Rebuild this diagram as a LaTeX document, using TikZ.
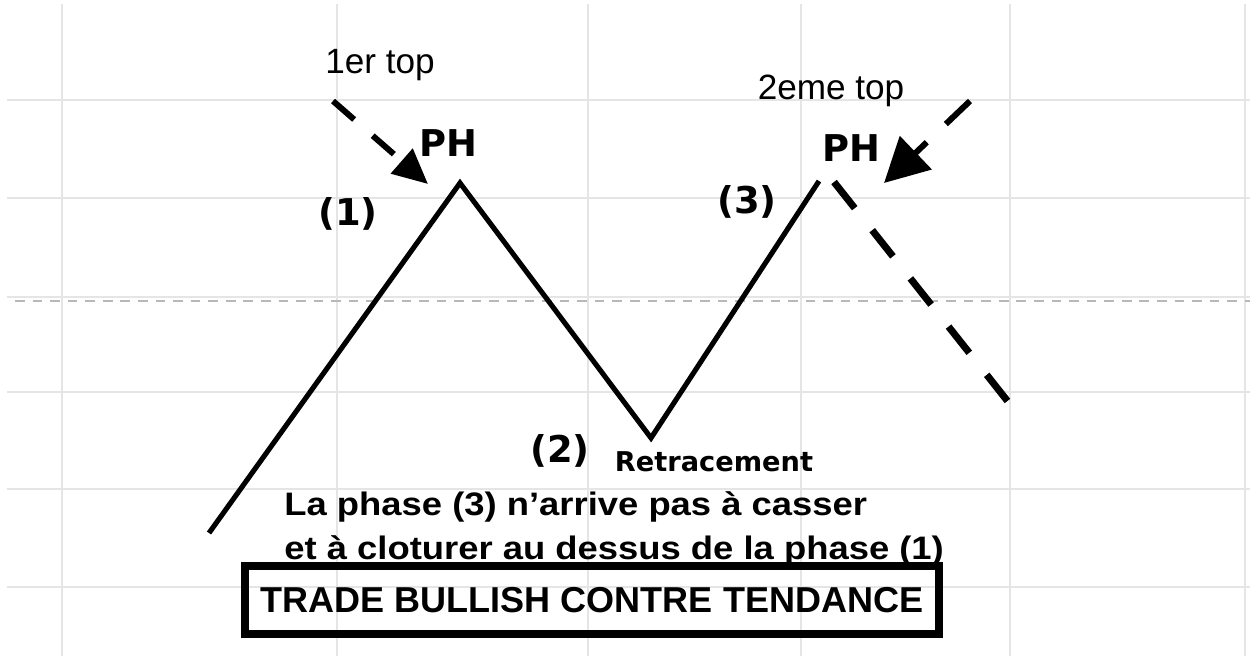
\documentclass[tikz,border=0pt]{standalone}
\usepackage{fontspec}
\setmainfont{Liberation Sans}
\newfontfamily\wideface{DejaVu Sans}
\newfontfamily\noteface[FakeStretch=1.12]{Liberation Sans}
\usetikzlibrary{positioning,arrows.meta}
\definecolor{gridgray}{gray}{0.9}
\definecolor{midgray}{gray}{0.72}

\begin{document}
\begin{tikzpicture}[x=0.02cm, y=-0.02cm,
    phase/.style={font=\wideface\bfseries\fontsize{21}{24}\selectfont, inner sep=0pt},
    top label/.style={font=\fontsize{20}{24}\selectfont, inner sep=0pt},
    note/.style={font=\noteface\bfseries\fontsize{18.5}{22}\selectfont, inner sep=0pt},
    toparrow/.style={line width=3.4pt, dash pattern=on 16pt off 14pt}]
  \def\trendw{2.9pt}
  \def\gridw{0.9pt}
  \useasboundingbox (0,0) rectangle (1250,656);
  % Grid
  \foreach \gx in {62,337,588,801,1010,1245}
    \draw[gridgray, line width=\gridw] (\gx,4) -- (\gx,656);
  \foreach \gy in {100,198,297,392,489,587}
    \draw[gridgray, line width=\gridw] (7,\gy) -- (1250,\gy);
  \draw[midgray, line width=0.6pt, dash pattern=on 5.5pt off 4.5pt] (15,301) -- (1250,301);

  % Swing points
  \coordinate (start) at (209,533);
  \coordinate (first top) at (460,183);
  \coordinate (retrace low) at (651,438);
  \coordinate (second top) at (819,181);
  \coordinate (fall start) at (834,182);
  \coordinate (fall end) at (1013,408);
  \draw[line width=\trendw] (start) -- (first top) -- (retrace low) -- (second top);
  \draw[line width=4pt, dash pattern=on 19pt off 16pt] (fall start) -- (fall end);

  % Top arrows
  \coordinate (arrow one) at (333,101);
  \coordinate (tip one) at (428,184);
  \coordinate (arrow two) at (970,101);
  \coordinate (tip two) at (884,183);
  \draw[toparrow, -{Triangle[length=0.7cm, width=0.64cm]}] (arrow one) -- (tip one);
  \draw[toparrow, dash pattern=on 19pt off 15pt, -{Triangle[length=0.88cm, width=0.9cm]}] (arrow two) -- (tip two);

  % Labels
  \node[top label, anchor=base] (first top label) at (380,73) {1er top};
  \node[top label, anchor=base] (second top label) at (831,99) {2eme top};
  \node[phase] (ph one) at (448,143) {PH};
  \node[phase] (ph two) at (851,148) {PH};
  \node[phase] (phase one) at (348,214) {(1)};
  \node[phase] (phase three) at (747,202) {(3)};
  \node[phase] (phase two) at (560,451) {(2)};
  \node[phase, font=\wideface\bfseries\fontsize{15.5}{18}\selectfont] (retracement) at (714,462) {Retracement};

  % Notes
  \coordinate (note corner) at (284,515);
  \node[note, anchor=base west] (note one) at (note corner) {La phase (3) n’arrive pas à casser};
  \node[note, below = 0.88cm of note corner, anchor=base west] (note two) {et à cloturer au dessus de la phase (1)};

  % Verdict
  \node[draw, line width=4.5pt, minimum width=13.88cm, minimum height=1.36cm,
    font=\bfseries\fontsize{20.5}{24}\selectfont, inner sep=0pt] (verdict) at (592,600) {TRADE BULLISH CONTRE TENDANCE};
\end{tikzpicture}
\end{document}
